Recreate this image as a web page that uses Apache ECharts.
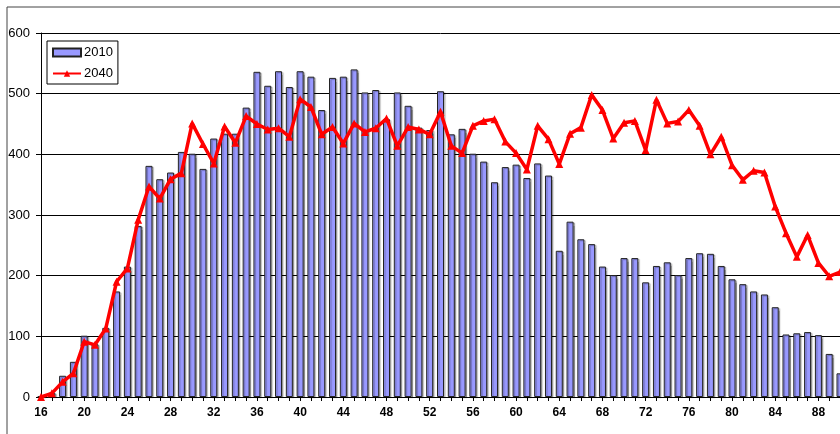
<!DOCTYPE html>
<html lang="en">
<head>
<meta charset="UTF-8">
<title>2010 / 2040</title>
<script src="https://cdn.jsdelivr.net/npm/echarts@6/dist/echarts.min.js"></script>
<style>html,body{margin:0;padding:0;background:#fff;}</style>
</head>
<body>
<div id="main" style="width:840px;height:434px;"></div>
<script>
// ages shown on the x axis
const ages = [16,17,18,19,20,21,22,23,24,25,26,27,28,29,30,31,32,33,34,35,
  36,37,38,39,40,41,42,43,44,45,46,47,48,49,50,51,52,53,54,55,
  56,57,58,59,60,61,62,63,64,65,66,67,68,69,70,71,72,73,74,75,
  76,77,78,79,80,81,82,83,84,85,86,87,88,89,90];

// 2010 (bars)
const pop2010 = [1,7,35,58,101,87,114,174,215,282,381,359,370,404,401,376,426,434,434,477,
  536,513,537,511,537,528,473,526,528,540,502,506,458,502,480,444,440,504,433,442,
  401,388,354,379,383,361,385,365,241,289,260,252,215,201,229,229,189,216,222,201,
  229,237,236,216,194,186,174,169,148,103,105,107,102,71,39];

// 2040 (line)
const pop2040 = [0,6,25,39,91,86,113,190,212,292,347,327,359,369,451,417,385,446,419,463,
  450,441,443,429,491,478,433,445,418,451,437,443,459,414,445,441,433,470,414,402,
  447,455,458,421,402,375,447,425,384,434,444,498,473,426,452,455,407,490,451,454,
  473,447,400,429,382,358,373,370,314,270,231,267,221,199,206];

const seriesNames = ['2010', '2040'];

const font = 'Liberation Sans, Arial, sans-serif';
const chart = echarts.init(document.getElementById('main'));

const option = {
  backgroundColor: '#fff',
  animation: false,
  textStyle: { fontFamily: font },
  // outer chart frame
  graphic: [{
    type: 'rect',
    shape: { x: 7, y: 7, width: 900, height: 500 },
    style: { fill: 'none', stroke: '#444', lineWidth: 1 },
    silent: true
  }],
  grid: { left: 41, right: 0, top: 33, bottom: 37 },
  legend: {
    orient: 'vertical',
    left: 47,
    top: 41,
    backgroundColor: '#fff',
    borderColor: '#000',
    borderWidth: 1,
    borderRadius: 0,
    padding: [5, 5, 4, 5],
    itemGap: 8,
    itemWidth: 28,
    itemHeight: 8,
    textStyle: { fontSize: 13, color: '#000', fontFamily: font, padding: [0, 0, 0, -2] },
    data: [{ name: seriesNames[0], icon: 'rect' }, { name: seriesNames[1] }]
  },
  xAxis: {
    type: 'category',
    data: ages,
    boundaryGap: false,
    axisLine: { lineStyle: { color: '#000', width: 1 } },
    axisTick: { show: true, interval: 0, length: 4, lineStyle: { color: '#000' } },
    axisLabel: {
      interval: 3,
      margin: 10,
      color: '#000',
      fontSize: 12,
      fontWeight: 'bold',
      fontFamily: font
    },
    splitLine: { show: false }
  },
  yAxis: {
    type: 'value',
    min: 0,
    max: 600,
    interval: 100,
    axisLine: { show: true, lineStyle: { color: '#000', width: 1 } },
    axisTick: { show: true, length: 5, lineStyle: { color: '#000' } },
    axisLabel: { margin: 11, color: '#000', fontSize: 13, fontFamily: font },
    splitLine: { show: true, lineStyle: { color: '#000', width: 1 } }
  },
  series: [
    {
      name: seriesNames[0],
      type: 'bar',
      data: pop2010,
      barWidth: 7,
      itemStyle: {
        color: '#9999FF',
        borderColor: '#222',
        borderWidth: 1,
        shadowColor: 'rgba(0,0,0,0.3)',
        shadowBlur: 1,
        shadowOffsetX: 1.5,
        shadowOffsetY: 1
      },
      z: 2
    },
    {
      name: seriesNames[1],
      type: 'line',
      data: pop2040,
      symbol: 'triangle',
      symbolSize: 8,
      showAllSymbol: true,
      lineStyle: { color: '#FF0000', width: 3.5 },
      itemStyle: { color: '#FF0000' },
      z: 3
    }
  ]
};

chart.setOption(option);
</script>
</body>
</html>
